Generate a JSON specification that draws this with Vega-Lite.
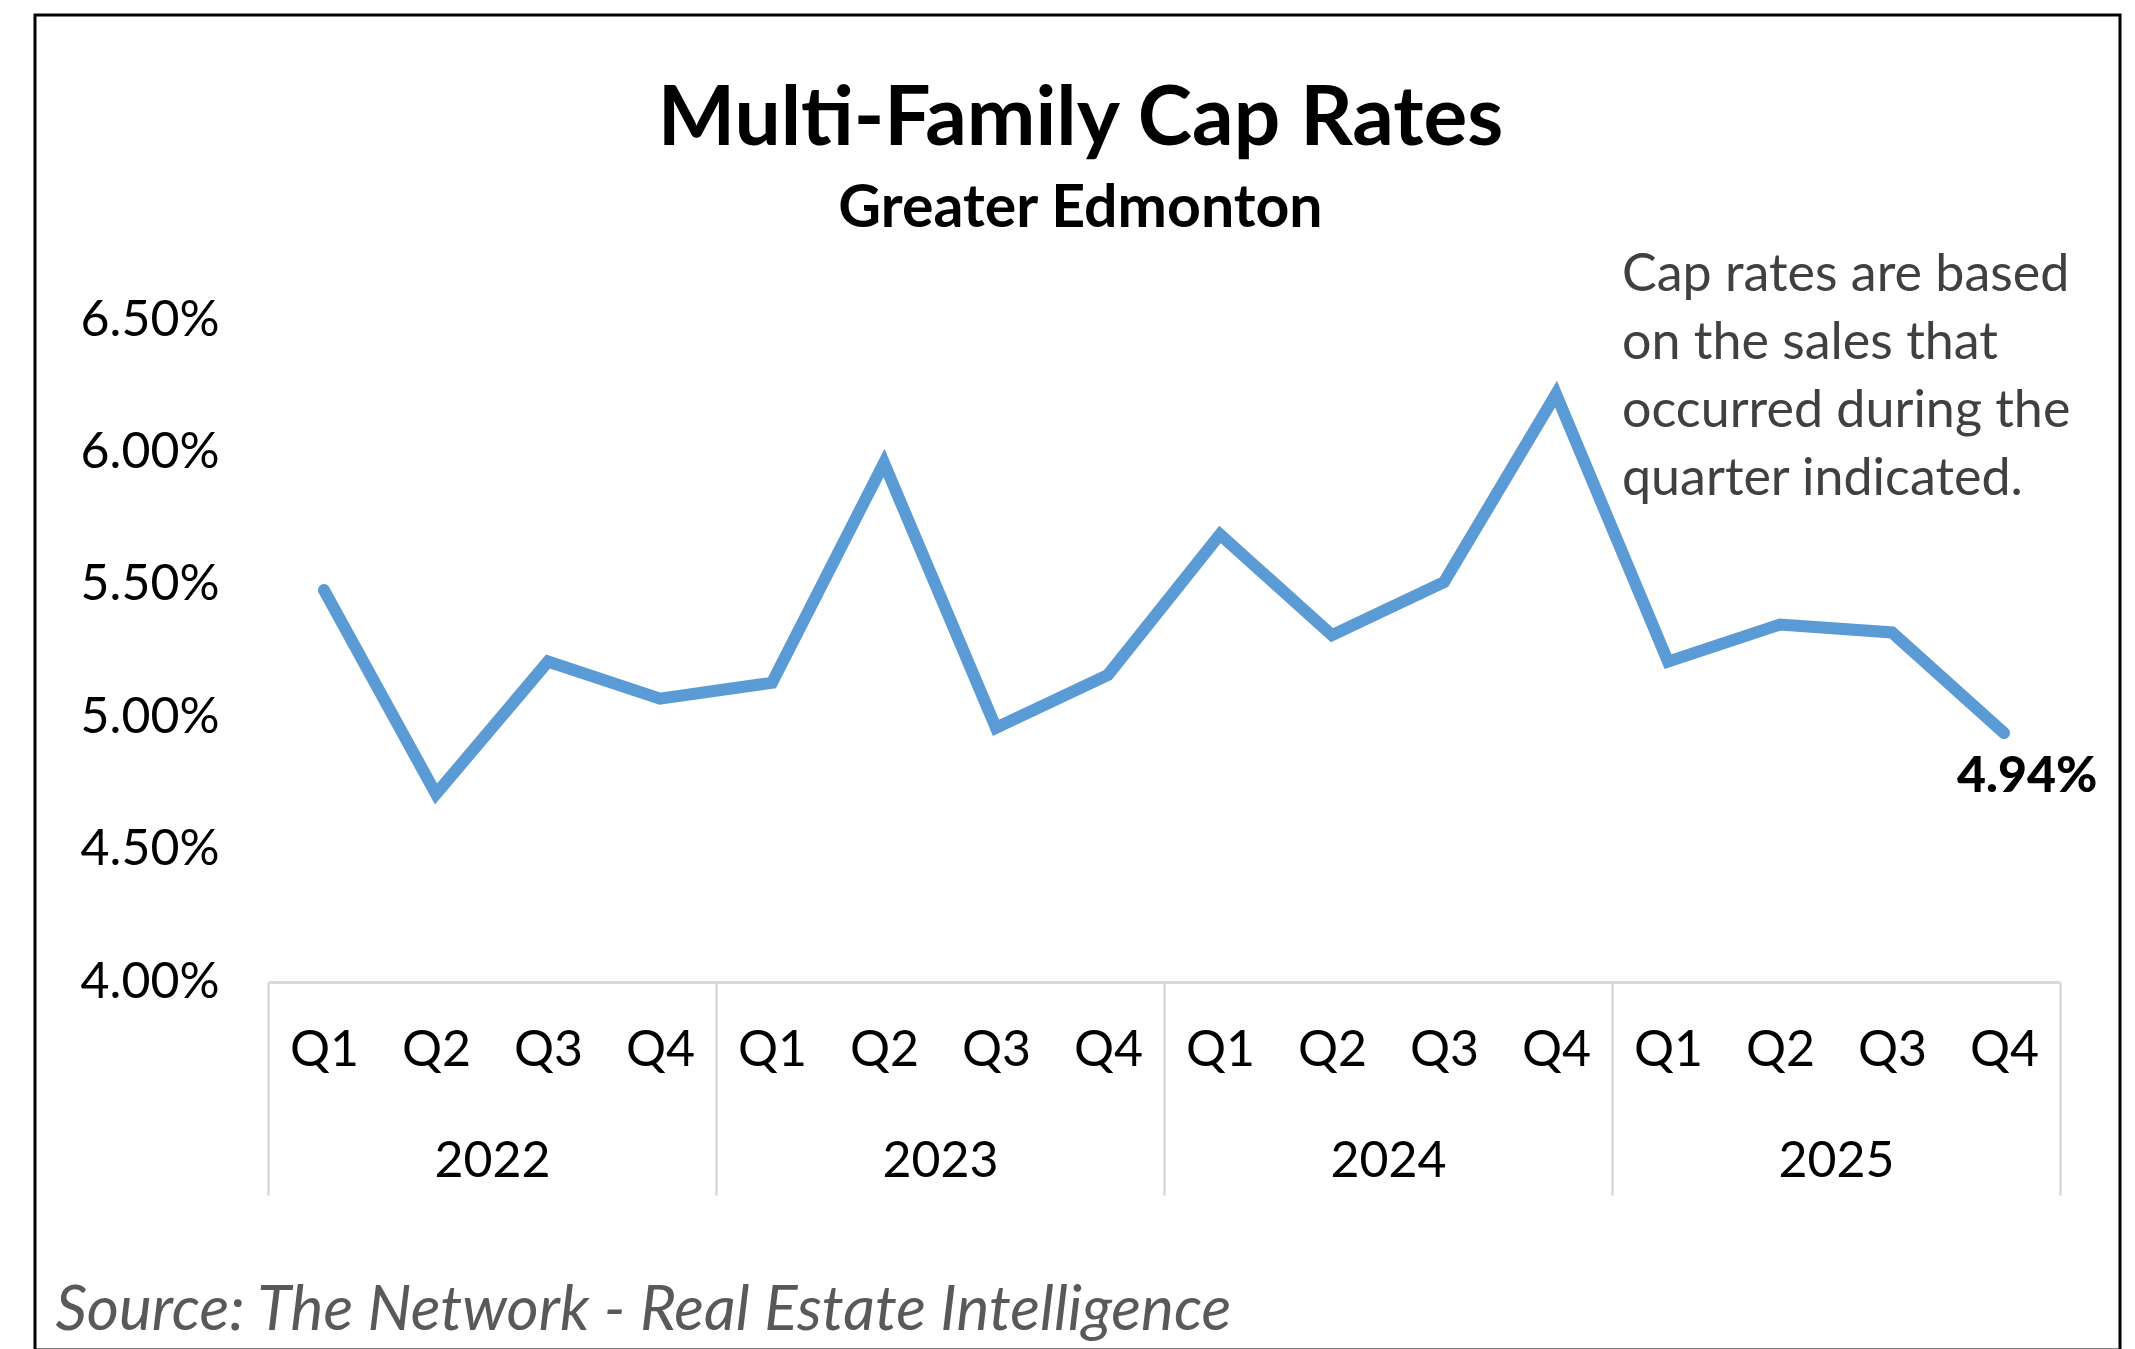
{
  "$schema": "https://vega.github.io/schema/vega-lite/v6.json",
  "autosize": {"type": "none"},
  "width": 2085,
  "height": 1335,
  "padding": {"left": 35, "top": 15, "right": 15, "bottom": -1},
  "background": "white",
  "config": {
    "view": {"stroke": "#000000", "strokeWidth": 3},
    "font": "Lato"
  },
  "title": {
    "text": "Multi-Family Cap Rates",
    "subtitle": "Greater Edmonton",
    "anchor": "middle",
    "frame": "group",
    "offset": -225,
    "dx": 3,
    "font": "Lato",
    "fontSize": 82,
    "fontWeight": "bold",
    "color": "#000000",
    "subtitleFont": "Lato",
    "subtitleFontSize": 59,
    "subtitleFontWeight": "bold",
    "subtitleColor": "#000000",
    "subtitlePadding": 18
  },
  "data": {
    "values": [
      {"year": "2022", "period": "2022 Q1", "rate": 0.0548},
      {"year": "2022", "period": "2022 Q2", "rate": 0.0471},
      {"year": "2022", "period": "2022 Q3", "rate": 0.0521},
      {"year": "2022", "period": "2022 Q4", "rate": 0.0507},
      {"year": "2023", "period": "2023 Q1", "rate": 0.0513},
      {"year": "2023", "period": "2023 Q2", "rate": 0.0596},
      {"year": "2023", "period": "2023 Q3", "rate": 0.0496},
      {"year": "2023", "period": "2023 Q4", "rate": 0.0516},
      {"year": "2024", "period": "2024 Q1", "rate": 0.0569},
      {"year": "2024", "period": "2024 Q2", "rate": 0.0531},
      {"year": "2024", "period": "2024 Q3", "rate": 0.0551},
      {"year": "2024", "period": "2024 Q4", "rate": 0.0622},
      {"year": "2025", "period": "2025 Q1", "rate": 0.0521},
      {"year": "2025", "period": "2025 Q2", "rate": 0.0535},
      {"year": "2025", "period": "2025 Q3", "rate": 0.0532},
      {"year": "2025", "period": "2025 Q4", "rate": 0.0494}
    ]
  },
  "layer": [
    {
      "encoding": {
        "x": {
          "field": "period", "type": "ordinal", "sort": null,
          "scale": {"range": [233, 2025], "paddingInner": 0, "paddingOuter": 0},
          "axis": {
            "orient": "bottom", "offset": -368, "title": null, "grid": false,
            "domain": true, "domainColor": "#d9d9d9", "domainWidth": 3,
            "ticks": false,
            "labelExpr": "split(datum.label, ' ')[1]",
            "labelFont": "Lato", "labelFontSize": 50, "labelColor": "#000000",
            "labelAngle": 0, "labelPadding": 68, "labelBaseline": "middle", "labelFlush": false
          }
        },
        "y": {
          "field": "rate", "type": "quantitative",
          "scale": {"domain": [0.04, 0.065], "range": [967, 305], "zero": false, "nice": false},
          "axis": {
            "orient": "left", "title": null, "grid": false, "domain": false, "ticks": false,
            "values": [0.04, 0.045, 0.05, 0.055, 0.06, 0.065],
            "format": ".2%",
            "labelFont": "Lato", "labelFontSize": 50, "labelColor": "#000000",
            "labelPadding": -184, "labelAlign": "right", "labelBaseline": "middle", "labelFlush": false
          }
        }
      },
      "layer": [
        {
          "mark": {"type": "line", "color": "#5B9BD5", "strokeWidth": 12, "strokeCap": "round", "strokeJoin": "miter"}
        },
        {
          "transform": [{"filter": "datum.period === '2025 Q4'"}],
          "mark": {"type": "text", "align": "left", "baseline": "alphabetic", "dx": -47, "dy": 59, "font": "Lato", "fontSize": 50, "fontWeight": 900, "color": "#000000"},
          "encoding": {
            "text": {"field": "rate", "type": "quantitative", "format": ".2%"}
          }
        },
        {
          "data": {"values": [{"period": "2025 Q1", "rate": 0.0661}]},
          "mark": {"type": "text", "align": "left", "baseline": "alphabetic", "dx": -46, "font": "Lato", "fontSize": 52, "color": "#404040", "lineHeight": 68},
          "encoding": {
            "text": {"value": ["Cap rates are based", "on the sales that", "occurred during the", "quarter indicated."]}
          }
        }
      ]
    },
    {
      "mark": {"type": "point", "opacity": 0},
      "encoding": {
        "x": {
          "field": "year", "type": "ordinal", "sort": null,
          "scale": {"range": [233, 2025], "paddingInner": 0, "paddingOuter": 0},
          "axis": {
            "orient": "bottom", "offset": -368, "grid": false, "domain": false,
            "ticks": true, "tickBand": "extent", "tickSize": 213, "tickColor": "#d9d9d9", "tickWidth": 2.5,
            "labelFont": "Lato", "labelFontSize": 50, "labelColor": "#000000",
            "labelAngle": 0, "labelPadding": -34, "labelBaseline": "middle", "labelFlush": false,
            "title": "Source: The Network - Real Estate Intelligence",
            "titleX": 20, "titleY": 328, "titleAlign": "left", "titleAnchor": "start", "titleBaseline": "middle", "titleAngle": 0,
            "titleFont": "Lato", "titleFontSize": 62, "titleFontStyle": "italic", "titleFontWeight": "normal", "titleColor": "#595959"
          }
        }
      }
    }
  ],
  "resolve": {"scale": {"x": "independent"}, "axis": {"x": "independent"}}
}
